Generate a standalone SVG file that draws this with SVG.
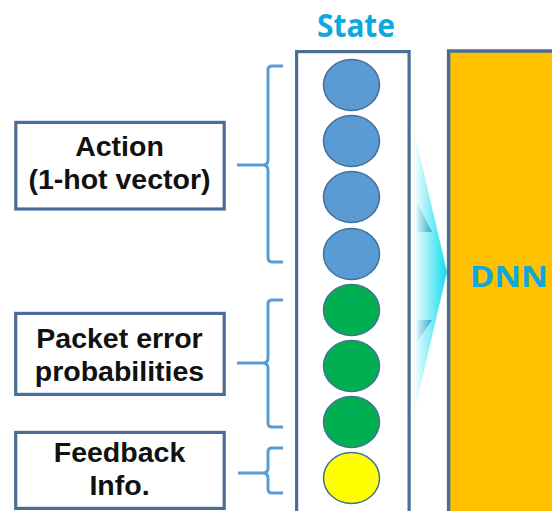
<svg xmlns="http://www.w3.org/2000/svg" width="552" height="511" viewBox="0 0 552 511">
<style>
.box{fill:#fff;stroke:#4A6E98;stroke-width:3.2}
.lbl{font-family:"Liberation Sans",Arial,sans-serif;font-weight:bold;font-size:28.5px;fill:#111;text-anchor:middle}
.brace{fill:none;stroke:#5B9BD5;stroke-width:3;stroke-linejoin:round}
.blue{fill:#5B9BD5;stroke:#41719C;stroke-width:1.5}
.green{fill:#00B050;stroke:#41719C;stroke-width:1.5}
.yellow{fill:#FFFF00;stroke:#41719C;stroke-width:1.5}
.title{font-family:"Noto Sans","Open Sans",sans-serif;font-weight:bold;fill:#0EA8DE;text-anchor:middle}
</style>
<defs>
<linearGradient id="ag" gradientUnits="userSpaceOnUse" x1="413" y1="0" x2="447" y2="0">
<stop offset="0" stop-color="#ffffff"/>
<stop offset="1" stop-color="#12DCEE"/>
</linearGradient>
<linearGradient id="dg" gradientUnits="userSpaceOnUse" x1="414" y1="0" x2="433" y2="0">
<stop offset="0" stop-color="#ffffff"/>
<stop offset="1" stop-color="#1AA6C8"/>
</linearGradient>
</defs>
<rect width="552" height="511" fill="#fff"/>
<g id="arrow">
<polygon points="413,126 447,272 413,418" fill="url(#ag)"/>
<polygon points="417,202 432,232 417,232" fill="url(#dg)"/>
<polygon points="417,342 432,320 417,320" fill="url(#dg)"/>
</g>
<g id="dnn">
<rect x="448.6" y="51" width="110" height="470" fill="#FFC000" stroke="#4A6E98" stroke-width="3.5"/>
<text class="title" x="509" y="287" font-size="28" textLength="78" lengthAdjust="spacingAndGlyphs">DNN</text>
</g>
<g id="state">
<text class="title" x="356" y="37" font-size="32" textLength="78" lengthAdjust="spacingAndGlyphs">State</text>
<rect class="box" x="296.6" y="51.6" width="112.5" height="470"/>
<ellipse class="blue" cx="351.5" cy="85" rx="28" ry="25.5"/>
<ellipse class="blue" cx="351.5" cy="141" rx="28" ry="25.5"/>
<ellipse class="blue" cx="351.5" cy="197" rx="28" ry="25.5"/>
<ellipse class="blue" cx="351.5" cy="254" rx="28" ry="25.5"/>
<ellipse class="green" cx="351.5" cy="310" rx="28" ry="25.5"/>
<ellipse class="green" cx="351.5" cy="366" rx="28" ry="25.5"/>
<ellipse class="green" cx="351.5" cy="422" rx="28" ry="25.5"/>
<ellipse class="yellow" cx="351.5" cy="478" rx="28" ry="25.5"/>
</g>
<g id="action">
<rect class="box" x="15.8" y="122.4" width="208.4" height="86.6"/>
<text class="lbl" x="119.5" y="155.5">Action</text>
<text class="lbl" x="119.5" y="188.5">(1-hot vector)</text>
</g>
<g id="packet">
<rect class="box" x="15.7" y="313.4" width="208.5" height="81"/>
<text class="lbl" x="119.5" y="348">Packet error</text>
<text class="lbl" x="119.5" y="380.5">probabilities</text>
</g>
<g id="feedback">
<rect class="box" x="15.7" y="432.4" width="208.5" height="76"/>
<text class="lbl" x="119.5" y="462">Feedback</text>
<text class="lbl" x="119.5" y="494.5">Info.</text>
</g>
<g id="connectors">
<path class="brace" d="M283,66 H272 Q268,66 268,70 V160 Q268,165 263,165 H237 M263,165 Q268,165 268,170 V257 Q268,262 272,262 H283"/>
<path class="brace" d="M283,300 H272 Q268,300 268,304 V358 Q268,363 263,363 H237 M263,363 Q268,363 268,368 V423 Q268,427 272,427 H283"/>
<path class="brace" d="M283,448 H272 Q268,448 268,452 V468 Q268,473 263,473 H238 M263,473 Q268,473 268,478 V489 Q268,493 272,493 H283"/>
</g>
</svg>
